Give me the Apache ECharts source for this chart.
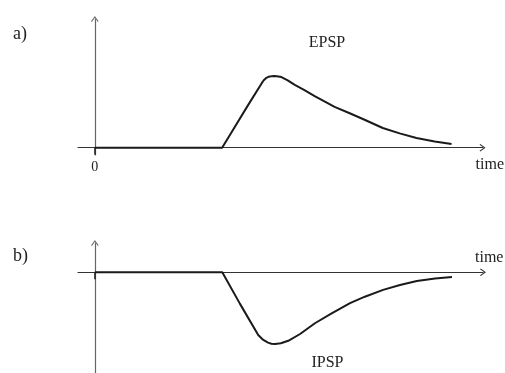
<!DOCTYPE html>
<html>
<head>
<meta charset="utf-8">
<script src="https://cdn.jsdelivr.net/npm/echarts@6/dist/echarts.min.js"></script>
<style>
  html, body { margin: 0; padding: 0; background: #fff; }
  #chart { width: 505px; height: 373px; }
</style>
</head>
<body>
<div id="chart"></div>
<script>
// Excitatory postsynaptic potential: time (arb. units) and relative amplitude
const epspTime  = [0, 37.75, 41.5, 45.4, 49.5, 50.1, 50.9, 51.6, 52.5, 53.2, 53.95, 55.35, 57.2, 59.3, 62.3, 65.2, 68.1, 71.1, 75.6, 80.0, 85.4, 90.4, 95.4, 100.8, 105.8];
const epspValue = [0, 0, 0.29, 0.59, 0.90, 0.94, 0.975, 0.99, 0.998, 1.0, 0.997, 0.985, 0.94, 0.875, 0.80, 0.72, 0.645, 0.57, 0.48, 0.39, 0.275, 0.20, 0.135, 0.086, 0.052];

// Inhibitory postsynaptic potential
const ipspTime  = [0, 37.75, 43.0, 48.4, 49.8, 51.3, 52.3, 53.4, 55.1, 57.3, 60.8, 65.2, 69.9, 75.6, 80.0, 85.4, 90.4, 95.4, 100.8, 105.8];
const ipspValue = [0, 0, -0.44, -0.875, -0.94, -0.98, -0.995, -1.0, -0.99, -0.955, -0.86, -0.71, -0.58, -0.43, -0.34, -0.245, -0.177, -0.12, -0.086, -0.065];

const panelLetters = ['a)', 'b)'];
const curveNames = ['EPSP', 'IPSP'];
const timeLabel = 'time';
const originTick = [0];

const SERIF = '"Liberation Serif", "Times New Roman", "DejaVu Serif", serif';
const ARROW = 'path://M5,0 L10,7 L9,8 L5,2.4 L1,8 L0,7 Z';

function pairs(xs, ys) { return xs.map((x, i) => [x, ys[i]]); }

function xAxisFor(gridIndex, showZero, nameAbove) {
  return {
    type: 'value', gridIndex, min: -5, max: 115,
    splitLine: { show: false },
    axisLine: {
      onZero: true,
      symbol: ['none', ARROW], symbolSize: [8, 6],
      lineStyle: { color: '#333', width: 1.2 }
    },
    axisTick: {
      show: true, customValues: originTick, length: 7,
      lineStyle: { color: '#222', width: 1.6 }
    },
    axisLabel: showZero
      ? { show: true, customValues: originTick, margin: 5, fontFamily: SERIF, fontSize: 14, color: '#222' }
      : { show: false },
    name: timeLabel,
    nameLocation: 'end',
    nameGap: nameAbove ? -8 : -7,
    nameTextStyle: nameAbove
      ? { fontFamily: SERIF, fontSize: 16, color: '#222', align: 'left', verticalAlign: 'bottom', padding: [0, 0, 7, 0] }
      : { fontFamily: SERIF, fontSize: 16, color: '#222', align: 'left', verticalAlign: 'top', padding: [9, 0, 0, 0] }
  };
}

function yAxisFor(gridIndex, min, max) {
  return {
    type: 'value', gridIndex, min, max,
    splitLine: { show: false },
    axisTick: { show: false },
    axisLabel: { show: false },
    axisLine: {
      onZero: true,
      symbol: ['none', ARROW], symbolSize: [8, 6],
      lineStyle: { color: '#666', width: 1.2 }
    }
  };
}

const chart = echarts.init(document.getElementById('chart'), null, { renderer: 'canvas' });

chart.setOption({
  animation: false,
  backgroundColor: '#fff',
  grid: [
    { left: 78, right: 22, top: 19, bottom: 218 },
    { left: 78, right: 22, top: 243, bottom: 0 }
  ],
  xAxis: [xAxisFor(0, true, false), xAxisFor(1, false, true)],
  yAxis: [yAxisFor(0, -0.102, 1.795), yAxisFor(1, -1.404, 0.409)],
  series: [
    {
      name: curveNames[0], type: 'line', xAxisIndex: 0, yAxisIndex: 0,
      data: pairs(epspTime, epspValue), showSymbol: false, z: 5,
      lineStyle: { color: '#1a1a1a', width: 2 }
    },
    {
      name: curveNames[1], type: 'line', xAxisIndex: 1, yAxisIndex: 1,
      data: pairs(ipspTime, ipspValue), showSymbol: false, z: 5,
      lineStyle: { color: '#1a1a1a', width: 2 }
    }
  ],
  graphic: [
    { type: 'text', x: 13, y: 34, style: { text: panelLetters[0], font: '18px ' + SERIF, fill: '#222', align: 'left', verticalAlign: 'middle' } },
    { type: 'text', x: 13, y: 256, style: { text: panelLetters[1], font: '18px ' + SERIF, fill: '#222', align: 'left', verticalAlign: 'middle' } },
    { type: 'text', x: 327, y: 42.5, style: { text: curveNames[0], font: '16px ' + SERIF, fill: '#222', align: 'center', verticalAlign: 'middle' } },
    { type: 'text', x: 327.5, y: 363, style: { text: curveNames[1], font: '16px ' + SERIF, fill: '#222', align: 'center', verticalAlign: 'middle' } }
  ]
});
</script>
</body>
</html>
